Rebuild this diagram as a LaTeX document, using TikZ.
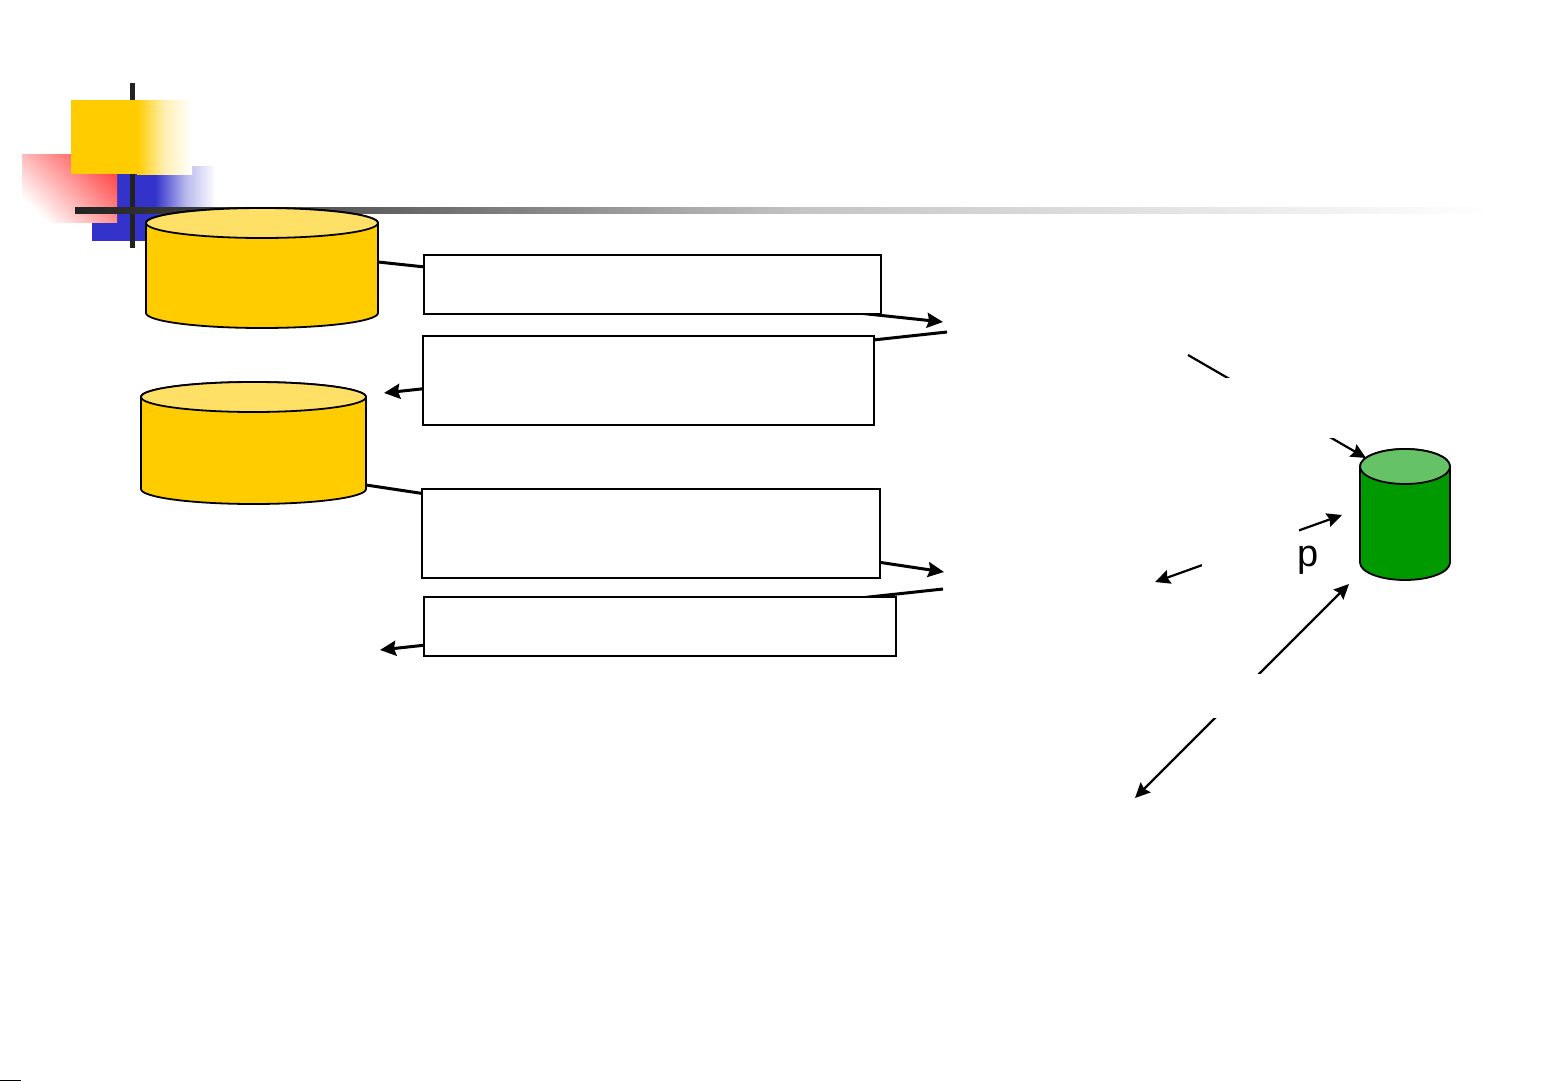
\documentclass[tikz,border=0pt]{standalone}
\usepackage{fontspec}
\setmainfont{Liberation Sans}
\usetikzlibrary{arrows.meta}
\definecolor{barblack}{HTML}{222222}
\definecolor{bargray}{HTML}{666666}
\definecolor{barlight}{HTML}{C4C4C4}
\definecolor{gold}{HTML}{FFCC00}
\definecolor{goldtop}{HTML}{FFE066}
\definecolor{leaf}{HTML}{009900}
\definecolor{leaftop}{HTML}{66C266}
\definecolor{squareblue}{HTML}{3333CC}
\newcommand{\drumbody}[5]{
		\draw[fill=#4,line width=1.8pt,line join=round] ([yshift=-#3]#1.north west) -- ([yshift=#3]#1.south west) arc[x radius=#2,y radius=#3,start angle=180,end angle=360] -- ([yshift=-#3]#1.north east) arc[x radius=#2,y radius=#3,start angle=0,end angle=180] -- cycle;
		\draw[fill=#5,line width=1.8pt] ([yshift=-#3]#1.north) ellipse[x radius=#2,y radius=#3];
}
\tikzset{
	drum/.style={inner sep=0pt,outer sep=0pt},
	textbox/.style={draw=black,fill=white,line width=2pt,inner sep=0pt,outer sep=0pt},
	mask/.style={fill=white,inner sep=0pt,outer sep=0pt},
	wire/.style={line width=3pt,-{Stealth[length=16pt,width=15pt,inset=2pt]}},
	thinwire/.style={line width=2.2pt,{Stealth[length=15pt,width=14pt,inset=2pt]}-{Stealth[length=15pt,width=14pt,inset=2pt]}},
	onewire/.style={line width=2.2pt,-{Stealth[length=15pt,width=14pt,inset=2pt]}}
}
\begin{document}
\begin{tikzpicture}[x=1pt,y=-1pt]
		\useasboundingbox (0,0) rectangle (1561,1081);
		\fill[squareblue] (92,166) rectangle (155,241);
		\shade[left color=squareblue,right color=white,middle color=squareblue!35!white] (155,166) rectangle (216,241);
		\shade[top color=red!70!white,bottom color=white,shading angle=-45] (22,154) rectangle (117,222);
		\draw[barblack,line width=5pt] (132.5,83) -- (132.5,248);
		\shade[left color=barblack,right color=bargray] (75,207) rectangle (400.5,213);
		\shade[left color=bargray,right color=barlight] (400,207) rectangle (800.5,213);
		\shade[left color=barlight,right color=white] (800,207) rectangle (1490,213);
		\fill[gold] (71,100) rectangle (137,174);
		\shade[left color=gold,right color=white,middle color=gold!30!white] (137,100) rectangle (192,174);
		\fill[barblack] (130,83) rectangle (135,100);
		\fill (0,1079.6) rectangle (21,1081);
		\node[drum,minimum width=232pt,minimum height=120pt](drumA) at (262,268) {};
		\drumbody{drumA}{116pt}{15pt}{gold}{goldtop}
		\node[drum,minimum width=225pt,minimum height=122pt](drumB) at (253.5,443) {};
		\drumbody{drumB}{112.5pt}{15pt}{gold}{goldtop}
		\node[drum,minimum width=90pt,minimum height=131pt](drumC) at (1405,514.5) {};
		\drumbody{drumC}{45pt}{17.5pt}{leaf}{leaftop}
		\coordinate (startA) at (378,262);
		\coordinate (endA) at (943,322);
		\coordinate (startB) at (947,332);
		\coordinate (endB) at (384,393);
		\coordinate (startC) at (366,485);
		\coordinate (endC) at (944,572);
		\coordinate (startD) at (943,589);
		\coordinate (endD) at (380,650);
		\coordinate (startE) at (1188,355);
		\coordinate (endE) at (1366,458);
		\coordinate (startF) at (1342,515);
		\coordinate (endF) at (1155,582);
		\coordinate (endG) at (1135,798);
		\coordinate (endH) at (1349,584);
		\draw[wire] (startA) -- (endA);
		\draw[wire] (startB) -- (endB);
		\draw[wire] (startC) -- (endC);
		\draw[wire] (startD) -- (endD);
		\draw[onewire] (startE) -- (endE);
		\draw[thinwire] (startF) -- (endF);
		\draw[thinwire] (endG) -- (endH);
		\node[textbox,minimum width=457pt,minimum height=59pt](boxA) at (652.5,284.5) {};
		\node[textbox,minimum width=451pt,minimum height=89pt](boxB) at (648.5,380.5) {};
		\node[textbox,minimum width=458pt,minimum height=89pt](boxC) at (651,533.5) {};
		\node[textbox,minimum width=472pt,minimum height=59pt](boxD) at (660,626.5) {};
		\node[mask,minimum width=260pt,minimum height=60pt](maskE) at (1220,408) {};
		\node[mask,minimum width=97pt,minimum height=60pt](maskF) at (1250.5,548) {};
		\node[mask,minimum width=100pt,minimum height=44pt](maskG) at (1237,696) {};
		\node[anchor=base,inner sep=0pt,font=\fontsize{38}{40}\selectfont](labelP) at (1308,566) {p};
		\end{tikzpicture}
\end{document}
